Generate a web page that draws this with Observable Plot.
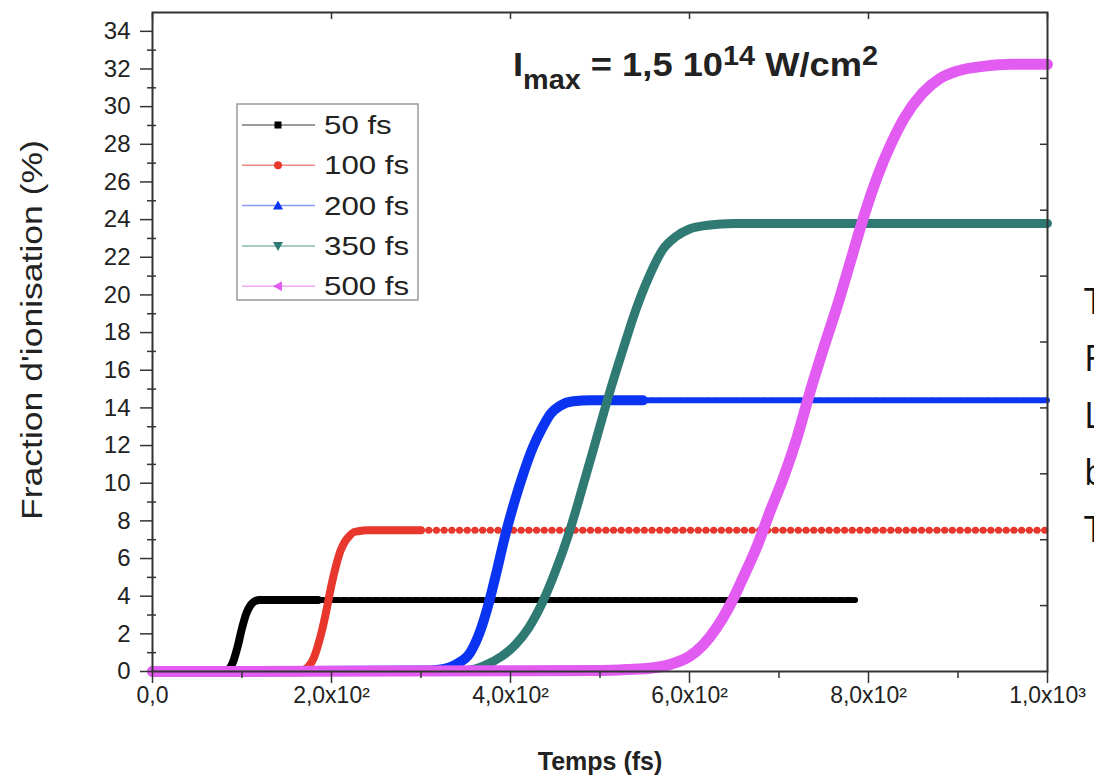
<!DOCTYPE html>
<html>
<head>
<meta charset="utf-8">
<script src="https://cdn.jsdelivr.net/npm/d3@7"></script>
<script src="https://cdn.jsdelivr.net/npm/@observablehq/plot@0.6"></script>
<style>
  html, body { margin: 0; padding: 0; background: #fff; overflow: hidden; }
  #chart { position: relative; width: 1094px; height: 781px; overflow: hidden; }
</style>
</head>
<body>
<div id="chart"></div>
<script>
// ---------- data ----------
const seriesNames = ["50 fs", "100 fs", "200 fs", "350 fs", "500 fs"];
const seriesColors = ["#000000", "#e8372c", "#0a34f2", "#2f7a73", "#e35cf2"];
const legendLineColors = ["#7a7a7a", "#f08a84", "#8a9af8", "#88b8b0", "#f0a8f8"];

const t50 = [0, 80, 85, 90, 95, 100, 105, 110, 115, 120, 130, 185, 785];
const v50 = [0, 0, 0.1, 0.5, 1.3, 2.3, 3.1, 3.55, 3.75, 3.8, 3.8, 3.8, 3.8];

const t100 = [0, 165, 170, 175, 180, 185, 190, 195, 200, 205, 210, 215, 220, 225, 230, 240, 300, 1000];
const v100 = [0, 0, 0.1, 0.3, 0.7, 1.4, 2.3, 3.4, 4.6, 5.6, 6.4, 6.9, 7.2, 7.4, 7.45, 7.5, 7.5, 7.5];

const t200 = [0, 300, 320, 340, 355, 365, 375, 385, 395, 405, 415, 425, 435, 445, 455, 470, 490, 548, 1000];
const v200 = [0, 0.05, 0.1, 0.4, 1.0, 2.0, 3.5, 5.4, 7.4, 9.1, 10.6, 11.9, 12.9, 13.7, 14.1, 14.35, 14.4, 14.4, 14.4];

const t350 = [0, 350, 370, 390, 405, 420, 435, 450, 465, 480, 495, 510, 525, 540, 555, 570, 585, 600, 620, 650, 1000];
const v350 = [0, 0.05, 0.3, 0.8, 1.4, 2.3, 3.6, 5.3, 7.3, 9.7, 12.2, 14.7, 17.0, 19.2, 21.0, 22.4, 23.1, 23.5, 23.7, 23.8, 23.8];

const t500 = [0, 500, 530, 560, 580, 600, 615, 630, 645, 660, 675, 690, 705, 720, 735, 750, 765, 780, 795, 810, 825, 840, 860, 880, 900, 930, 960, 1000];
const v500 = [0, 0.05, 0.1, 0.2, 0.4, 0.8, 1.4, 2.3, 3.5, 5.0, 6.6, 8.5, 10.3, 12.4, 14.9, 17.2, 19.4, 21.8, 24.2, 26.3, 28.0, 29.4, 30.7, 31.5, 31.9, 32.15, 32.25, 32.25];

// time after which the simulation output is sparsely sampled (markers visible)
const denseUntil = [185, 300, 548, 1000, 1000];

// axis ticks
const xMajor = [0, 200, 400, 600, 800, 1000];
const xTickLabels = ["0,0", "2,0x10²", "4,0x10²", "6,0x10²", "8,0x10²", "1,0x10³"];
const xMinor = [100, 300, 500, 700, 900];
const xTop = [0, 200, 400, 600, 800, 1000];
const yMajor = [0, 2, 4, 6, 8, 10, 12, 14, 16, 18, 20, 22, 24, 26, 28, 30, 32, 34];
const yMinor = [1, 3, 5, 7, 9, 11, 13, 15, 17, 19, 21, 23, 25, 27, 29, 31, 33];
const yRight = [3.5, 7, 10.5, 14, 17.5, 21, 24.5, 28, 31.5];

const xTitle = "Temps (fs)";
const yTitle = "Fraction d'ionisation (%)";
const sideText = ["T", "F", "L", "b", "T"];

// ---------- build ----------
const allT = [t50, t100, t200, t350, t500];
const allV = [v50, v100, v200, v350, v500];
const widths = [8, 8, 10, 9, 11];

const series = seriesNames.map((name, i) =>
  allT[i].map((t, j) => ({name, t, v: allV[i][j]}))
);

const lineMarks = [];
series.forEach((rows, i) => {
  const col = seriesColors[i];
  const dense = rows.filter(d => d.t <= denseUntil[i]);
  const sparse = rows.filter(d => d.t >= denseUntil[i]);
  lineMarks.push(Plot.line(rows, {x: "t", y: "v", stroke: col, strokeWidth: 1.5, curve: "monotone-x"}));
  lineMarks.push(Plot.line(dense, {x: "t", y: "v", stroke: col, strokeWidth: widths[i], curve: "monotone-x", strokeLinejoin: "round"}));
  if (sparse.length > 1) {
    const dash = i === 0 ? {strokeDasharray: "5.5,2.5", strokeWidth: 6}
               : i === 1 ? {strokeDasharray: "0.1,7.6", strokeWidth: 7, strokeLinecap: "round"}
               : {strokeDasharray: "5,2", strokeWidth: 6};
    lineMarks.push(Plot.line(sparse, {x: "t", y: "v", stroke: col, curve: "monotone-x", ...dash}));
  }
});

const axisColor = "#333";
const FONT = "'Liberation Sans', Arial, sans-serif";
const plot = Plot.plot({
  width: 1094,
  height: 781,
  marginLeft: 152,
  marginRight: 47,
  marginTop: 12,
  marginBottom: 110,
  x: {domain: [0, 1000]},
  y: {domain: [0, 35]},
  style: {fontFamily: FONT, fontSize: "20px", color: "#222", background: "white", overflow: "visible"},
  marks: [
    ...lineMarks,
    Plot.frame({stroke: axisColor, strokeWidth: 2}),
    Plot.axisY({ticks: yMajor, tickSize: 12, tickPadding: 10, tickFormat: d => String(d), fontSize: 24, label: null, stroke: axisColor, strokeWidth: 1.5}),
    Plot.axisY({ticks: yMinor, tickSize: 9, insetLeft: 4, tickFormat: () => "", label: null, stroke: axisColor, strokeWidth: 1.5}),
    Plot.axisY({anchor: "right", ticks: yRight, tickSize: 8, insetRight: 8, tickFormat: () => "", label: null, stroke: axisColor, strokeWidth: 1.5}),
    Plot.axisX({ticks: xMajor, tickSize: 12, tickPadding: 3, tickFormat: d => xTickLabels[xMajor.indexOf(d)], fontSize: 23, label: null, stroke: axisColor, strokeWidth: 1.5}),
    Plot.axisX({ticks: xMinor, tickSize: 7, tickFormat: () => "", label: null, stroke: axisColor, strokeWidth: 1.5}),
    Plot.axisX({anchor: "top", ticks: xTop, tickSize: 6, insetTop: 6, tickFormat: () => "", label: null, stroke: axisColor, strokeWidth: 1.5}),
    Plot.text([xTitle], {text: d => d, frameAnchor: "bottom", dy: 98, fontSize: 25, fontWeight: "bold", fill: "#222"})
  ]
});

document.getElementById("chart").appendChild(plot);
const svg = d3.select(plot);

// tick label sizes as in the reference
const yLabelSet = new Set(yMajor.map(String));
const xLabelSet = new Set(xTickLabels);
svg.selectAll("text").each(function() {
  const s = this.textContent;
  if (xLabelSet.has(s)) { this.setAttribute("font-size", 23); this.style.fontSize = "23px"; }
  else if (yLabelSet.has(s)) { this.setAttribute("font-size", 24); this.style.fontSize = "24px"; }
});

// y title (rotated), stretched to the reference length
svg.append("text")
  .attr("transform", "translate(42,330) rotate(-90)")
  .attr("x", -190).attr("y", 0)
  .attr("text-anchor", "start")
  .attr("font-family", FONT).attr("font-size", 30).attr("fill", "#222")
  .attr("textLength", 380).attr("lengthAdjust", "spacingAndGlyphs")
  .text(yTitle);

// annotation  I_max = 1,5 10^14 W/cm^2
const ann = svg.append("text")
  .attr("x", 513).attr("y", 76).attr("text-anchor", "start")
  .attr("font-family", FONT)
  .attr("font-weight", "bold").attr("font-size", 34).attr("fill", "#222");
ann.append("tspan").text("I");
ann.append("tspan").attr("dy", 13).attr("font-size", 27).text("max");
ann.append("tspan").attr("dy", -13).text(" = 1,5 10");
ann.append("tspan").attr("dy", -11).attr("font-size", 27).text("14");
ann.append("tspan").attr("dy", 11).text(" W/cm");
ann.append("tspan").attr("dy", -11).attr("font-size", 27).text("2");
ann.attr("textLength", 365).attr("lengthAdjust", "spacingAndGlyphs");

// legend
const lg = svg.append("g");
lg.append("rect").attr("x", 237).attr("y", 104).attr("width", 181).attr("height", 196)
  .attr("fill", "white").attr("stroke", "#9a9a9a").attr("stroke-width", 1.5);
seriesNames.forEach((name, i) => {
  const y = 125 + i * 40.3;
  lg.append("line").attr("x1", 242).attr("x2", 315).attr("y1", y).attr("y2", y)
    .attr("stroke", legendLineColors[i]).attr("stroke-width", 1.5);
  const c = seriesColors[i], cx = 278;
  if (i === 0) lg.append("rect").attr("x", cx - 3.5).attr("y", y - 3.5).attr("width", 7).attr("height", 7).attr("fill", c);
  if (i === 1) lg.append("circle").attr("cx", cx).attr("cy", y).attr("r", 4).attr("fill", c);
  if (i === 2) lg.append("path").attr("d", `M${cx},${y-5}L${cx+5},${y+4}L${cx-5},${y+4}Z`).attr("fill", c);
  if (i === 3) lg.append("path").attr("d", `M${cx},${y+5}L${cx+5},${y-4}L${cx-5},${y-4}Z`).attr("fill", c);
  if (i === 4) lg.append("path").attr("d", `M${cx-5},${y}L${cx+4},${y-5}L${cx+4},${y+5}Z`).attr("fill", c);
  const tx = lg.append("text").attr("x", 324).attr("y", y + 9).attr("text-anchor", "start")
    .attr("font-family", FONT).attr("font-size", 25).attr("fill", "#222").text(name);
  const L = tx.node().getComputedTextLength();
  tx.attr("textLength", L * 1.25).attr("lengthAdjust", "spacingAndGlyphs");
});

// cropped text of the surrounding document at the right edge (cut off as in the reference)
sideText.forEach((s, i) => {
  svg.append("text").attr("x", 1084).attr("y", 314 + i * 57).attr("text-anchor", "start")
    .attr("font-family", "'Open Sans', 'Noto Sans', sans-serif").attr("font-size", 36).attr("fill", "#111").text(s);
});
</script>
</body>
</html>
